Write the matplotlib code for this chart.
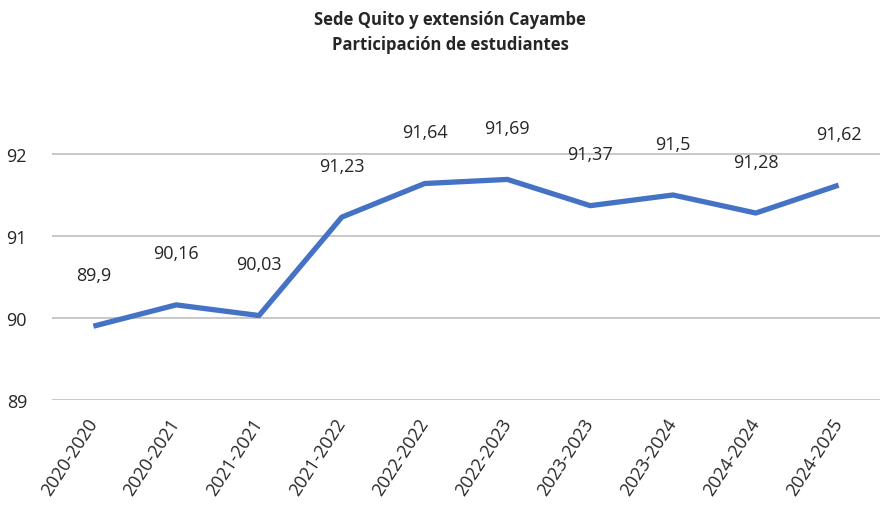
import matplotlib
matplotlib.use('Agg')
import matplotlib.pyplot as plt

periodos = ['2020-2020', '2020-2021', '2021-2021', '2021-2022', '2022-2022',
            '2022-2023', '2023-2023', '2023-2024', '2024-2024', '2024-2025']
participacion = [89.9, 90.16, 90.03, 91.23, 91.64, 91.69, 91.37, 91.5, 91.28, 91.62]
etiquetas = ['89,9', '90,16', '90,03', '91,23', '91,64', '91,69', '91,37', '91,5', '91,28', '91,62']

plt.rcParams['font.family'] = ['Open Sans', 'DejaVu Sans']

fig = plt.figure(figsize=(8.83, 5.06), dpi=100)
ax = fig.add_axes([52/883, 1 - 401/506, 828/883, (401 - 125)/506])

x = list(range(len(periodos)))
ax.plot(x, participacion, color='#4472C4', linewidth=3.8, solid_capstyle='butt', zorder=3)

for xi, yi, txt in zip(x, participacion, etiquetas):
    ax.annotate(txt, (xi, yi), xytext=(0, 37), textcoords='offset points',
                ha='center', va='center', fontsize=13, color='#262626',
                annotation_clip=False)

ax.set_xlim(-0.5, len(periodos) - 0.5)
ax.set_ylim(89, 92 + 30/82)
ax.set_yticks([89, 90, 91, 92])
ax.set_yticklabels(['89', '90', '91', '92'], fontsize=13, color='#262626')
ax.set_xticks(x)
ax.set_xticklabels(periodos, rotation=57, ha='right', va='center', rotation_mode='anchor',
                   fontsize=13, color='#262626')
ax.tick_params(axis='both', length=0)
ax.tick_params(axis='x', pad=14)
ax.tick_params(axis='y', pad=18)
ax.grid(axis='y', color='#BFBFBF', linewidth=1.2)
for s in ax.spines.values():
    s.set_visible(False)

fig.text(450/883, 1 - 20/506, 'Sede Quito y extensión Cayambe', ha='center', va='center',
         fontsize=12, fontweight='bold', color='#262626')
fig.text(450/883, 1 - 45/506, 'Participación de estudiantes', ha='center', va='center',
         fontsize=12, fontweight='bold', color='#262626')

fig.savefig('out.png', dpi=100)
